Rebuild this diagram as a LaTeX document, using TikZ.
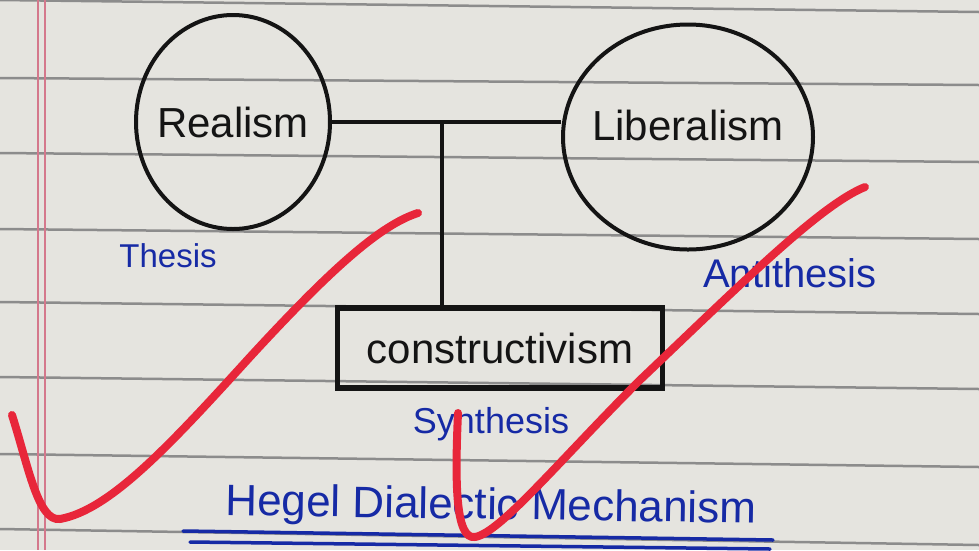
\documentclass[tikz,border=0pt]{standalone}
\usepackage{fontspec}
\setmainfont{Liberation Sans}
\usetikzlibrary{shapes.geometric}

\definecolor{paper}{RGB}{229,228,223}
\definecolor{rule}{RGB}{140,140,140}
\definecolor{margin}{RGB}{212,120,140}
\definecolor{ink}{RGB}{20,20,20}
\definecolor{pen}{RGB}{22,42,165}
\definecolor{tick}{RGB}{232,38,58}

\begin{document}
\begin{tikzpicture}[x=1pt,y=-1pt,
theory/.style={ellipse,draw=ink,line width=4pt,inner sep=0pt},
inkname/.style={font=\fontsize{42}{44}\selectfont,text=ink},
stagebox/.style={rectangle,draw=ink,line width=5.5pt,inner sep=0pt,minimum width=325pt,minimum height=80pt,inkname},
penlabel/.style={font=\fontsize{36}{38}\selectfont,text=pen,anchor=base},
link/.style={draw=ink,line width=4pt},
check/.style={draw=tick,line width=8pt,line cap=round,line join=round}]

\useasboundingbox (0,0) rectangle (979,550);

\fill[paper] (0,0) rectangle (979,550);

\begin{scope}
\clip (0,0) rectangle (979,550);
\foreach \yl/\yr in {0/12,78/85,153/162,229/239,302/314,377/389,454/467,529/545}
  \draw[rule,line width=2.5pt] (0,\yl) -- (979,\yr);
\end{scope}

\draw[margin,line width=1.5pt] (38,0) -- (38,550) (45,0) -- (45,550);

\node[theory,minimum width=194pt,minimum height=214pt,label={[inkname]center:Realism}] (realism) at (233,122) {};

\node[theory,minimum width=250pt,minimum height=225pt,label={[inkname,yshift=12pt]center:Liberalism}] (liberalism) at (688,137) {};

\node[stagebox] (constructivism) at (500,348) {constructivism};

\coordinate (joint) at (442,122);

\draw[link] (realism.east) -- (realism.east -| liberalism.west);

\draw[link] (joint) -- (joint |- constructivism.north);

\node[penlabel,font=\fontsize{33}{35}\selectfont] (thesis) at (168,267) {Thesis};

\node[penlabel,font=\fontsize{40}{42}\selectfont] (antithesis) at (790,287) {Antithesis};

\node[penlabel] (synthesis) at (491,433) {Synthesis};

\node[penlabel,anchor=base west,rotate=-0.9,font=\fontsize{44}{46}\selectfont] (title) at (222,515) {Hegel Dialectic Mechanism};

\draw[pen,line width=3.5pt,line cap=round] (183,531) -- (773,540);

\draw[pen,line width=3.5pt,line cap=round] (190,542) -- (770,549);

\draw[check] (12,415) .. controls (28,465) and (38,522) .. (60,519) .. controls (110,510) and (170,445) .. (250,357) .. controls (330,270) and (380,225) .. (418,213);

\draw[check] (458,413) .. controls (455,480) and (455,540) .. (475,537) .. controls (500,533) and (560,460) .. (640,380) .. controls (740,285) and (820,205) .. (865,187);

\end{tikzpicture}
\end{document}
